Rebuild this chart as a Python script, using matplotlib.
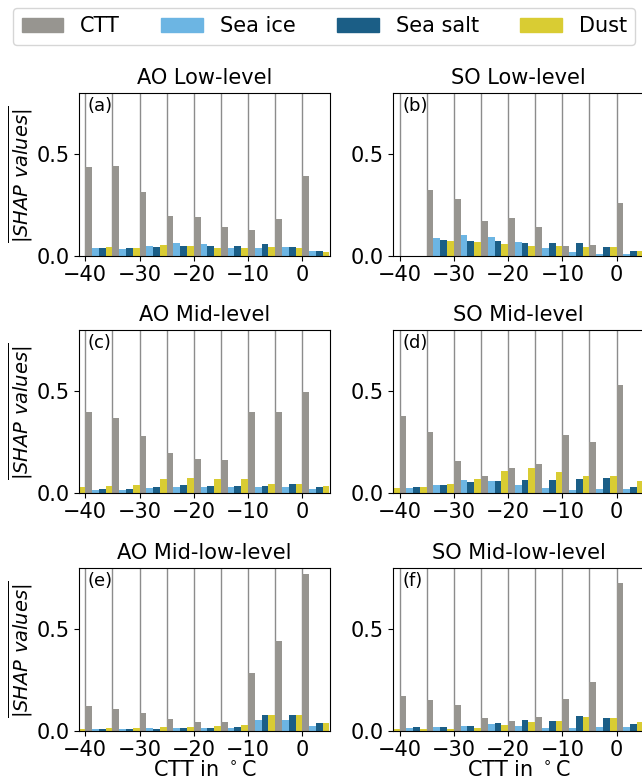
import matplotlib as mpl

mpl.use("Agg")
import matplotlib.pyplot as plt
import numpy as np
from matplotlib.patches import Patch

# bin start temperatures (deg C); the -45 bin only shows its dust bar at the left edge
BINS = [-45, -40, -35, -30, -25, -20, -15, -10, -5, 0]
NAN = np.nan

FEATURES = ["CTT", "Sea ice", "Sea salt", "Dust"]
COLORS = ["#979590", "#6cb5e3", "#1b5e86", "#d9cc33"]

TITLES = ["AO Low-level", "SO Low-level", "AO Mid-level", "SO Mid-level",
          "AO Mid-low-level", "SO Mid-low-level"]
LABELS = ["(a)", "(b)", "(c)", "(d)", "(e)", "(f)"]

# mean |SHAP| per bin, one list per feature and panel
ao_low_ctt = [NAN, 0.434, 0.439, 0.314, 0.197, 0.188, 0.143, 0.127, 0.181, 0.393]
ao_low_ice = [NAN, 0.039, 0.033, 0.049, 0.064, 0.059, 0.039, 0.039, 0.043, 0.025]
ao_low_salt = [NAN, 0.039, 0.039, 0.044, 0.049, 0.049, 0.049, 0.059, 0.043, 0.023]
ao_low_dust = [0.0, 0.043, 0.039, 0.053, 0.049, 0.039, 0.039, 0.043, 0.039, 0.020]

so_low_ctt = [NAN, 0.0, 0.324, 0.280, 0.171, 0.186, 0.143, 0.048, 0.053, 0.260]
so_low_ice = [NAN, 0.0, 0.087, 0.104, 0.092, 0.067, 0.038, 0.018, 0.008, 0.008]
so_low_salt = [NAN, 0.0, 0.077, 0.072, 0.072, 0.062, 0.062, 0.062, 0.043, 0.023]
so_low_dust = [0.0, 0.0, 0.072, 0.067, 0.058, 0.048, 0.048, 0.043, 0.043, 0.023]

ao_mid_ctt = [NAN, 0.394, 0.365, 0.280, 0.196, 0.167, 0.162, 0.394, 0.394, 0.493]
ao_mid_ice = [NAN, 0.015, 0.015, 0.025, 0.030, 0.030, 0.030, 0.030, 0.030, 0.020]
ao_mid_salt = [NAN, 0.020, 0.020, 0.030, 0.040, 0.035, 0.035, 0.035, 0.045, 0.030]
ao_mid_dust = [0.028, 0.035, 0.040, 0.068, 0.073, 0.068, 0.068, 0.045, 0.045, 0.035]

so_mid_ctt = [NAN, 0.375, 0.300, 0.157, 0.083, 0.122, 0.142, 0.285, 0.251, 0.528]
so_mid_ice = [NAN, 0.023, 0.038, 0.063, 0.058, 0.038, 0.023, 0.013, 0.018, 0.018]
so_mid_salt = [NAN, 0.028, 0.038, 0.053, 0.058, 0.063, 0.063, 0.068, 0.073, 0.028]
so_mid_dust = [0.023, 0.028, 0.043, 0.068, 0.107, 0.122, 0.102, 0.083, 0.083, 0.058]

ao_ml_ctt = [NAN, 0.121, 0.108, 0.087, 0.057, 0.042, 0.042, 0.283, 0.440, 0.768]
ao_ml_ice = [NAN, 0.008, 0.008, 0.013, 0.013, 0.013, 0.013, 0.052, 0.052, 0.023]
ao_ml_salt = [NAN, 0.008, 0.008, 0.008, 0.013, 0.013, 0.018, 0.077, 0.077, 0.038]
ao_ml_dust = [0.008, 0.013, 0.013, 0.018, 0.018, 0.023, 0.028, 0.077, 0.077, 0.038]

so_ml_ctt = [NAN, 0.170, 0.150, 0.126, 0.062, 0.047, 0.067, 0.155, 0.239, 0.724]
so_ml_ice = [NAN, 0.013, 0.018, 0.023, 0.033, 0.023, 0.013, 0.013, 0.018, 0.018]
so_ml_salt = [NAN, 0.018, 0.018, 0.023, 0.038, 0.052, 0.047, 0.072, 0.062, 0.033]
so_ml_dust = [0.008, 0.008, 0.008, 0.013, 0.028, 0.042, 0.047, 0.067, 0.062, 0.042]

PANELS = [
    [ao_low_ctt, ao_low_ice, ao_low_salt, ao_low_dust],
    [so_low_ctt, so_low_ice, so_low_salt, so_low_dust],
    [ao_mid_ctt, ao_mid_ice, ao_mid_salt, ao_mid_dust],
    [so_mid_ctt, so_mid_ice, so_mid_salt, so_mid_dust],
    [ao_ml_ctt, ao_ml_ice, ao_ml_salt, ao_ml_dust],
    [so_ml_ctt, so_ml_ice, so_ml_salt, so_ml_dust],
]

plt.rcParams["font.family"] = ["DejaVu Sans"]
plt.rcParams["font.size"] = 15

W, H = 642, 782
fig = plt.figure(figsize=(W / 100, H / 100), dpi=100)

col_x = [79, 393.3]
row_bottom = [255.7, 492.7, 730.7]
ax_w, ax_h = 251, 163

bar_w = 1.25
x = np.array(BINS, dtype=float)

for i, series in enumerate(PANELS):
    r, c = divmod(i, 2)
    ax = fig.add_axes([col_x[c] / W, 1 - row_bottom[r] / H, ax_w / W, ax_h / H])
    for b in BINS[1:]:
        ax.axvline(b, color="#8c8c8c", lw=1.0, zorder=0)
    for k, vals in enumerate(series):
        ax.bar(x + k * bar_w, vals, width=bar_w, align="edge", color=COLORS[k], zorder=2)
    ax.set_xlim(-41.15, 5.1)
    ax.set_ylim(0, 0.8)
    ax.set_xticks([-40, -30, -20, -10, 0])
    ax.set_yticks([0.0, 0.5])
    ax.set_title(TITLES[i], fontsize=15)
    ax.text(0.035, 0.975, LABELS[i], transform=ax.transAxes, fontsize=13, va="top", ha="left")
    if c == 0:
        ax.set_ylabel(r"$\overline{|SHAP\ values|}$", fontsize=14, labelpad=1)
    if r == 2:
        ax.set_xlabel(r"CTT in $^\circ$C", labelpad=0)

handles = [Patch(color=col, label=lab) for col, lab in zip(COLORS, FEATURES)]
fig.legend(handles=handles, loc="upper center", bbox_to_anchor=(0.505, 1 - 8 / H), ncol=4,
           fontsize=15, borderaxespad=0)

fig.savefig("out.png", dpi=100)
